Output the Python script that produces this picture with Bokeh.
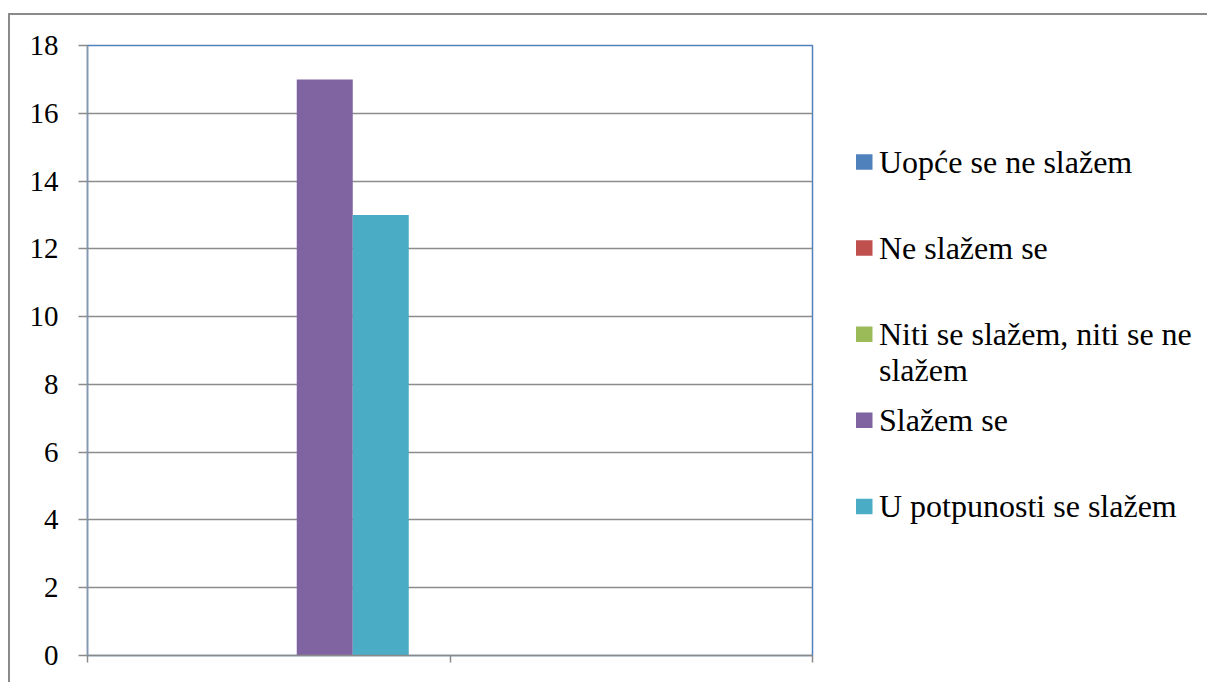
from bokeh.plotting import figure
from bokeh.models import ColumnDataSource, FixedTicker, Range1d
from bokeh.layouts import row
from bokeh.core.properties import value
from bokeh.embed import file_html
from bokeh.resources import INLINE

# ---- data ----
series = ["Uopće se ne slažem", "Ne slažem se", "Niti se slažem, niti se ne slažem",
          "Slažem se", "U potpunosti se slažem"]
legend_lines = [["Uopće se ne slažem"], ["Ne slažem se"],
                ["Niti se slažem, niti se ne", "slažem"],
                ["Slažem se"], ["U potpunosti se slažem"]]
colors = ["#4F81BD", "#C0504D", "#9BBB59", "#8064A2", "#4BACC6"]
cat_pos = [0.5, 1.5]          # two category slots on the axis
values = [
    [0, 0],    # Uopće se ne slažem
    [0, 0],    # Ne slažem se
    [0, 0],    # Niti se slažem, niti se ne slažem
    [17, 0],   # Slažem se
    [13, 0],   # U potpunosti se slažem
]
y_ticks = [0, 2, 4, 6, 8, 10, 12, 14, 16, 18]

FONT = "'Liberation Serif', 'Times New Roman', 'DejaVu Serif', serif"
GRAY = "#8a8a8a"

FR_TOP, FR_H, FR_BOT = 30, 610, 27

# ---- chart ----
p = figure(width=806, height=FR_TOP + FR_H + FR_BOT, output_backend="svg", toolbar_location=None,
           x_range=Range1d(0, 2), y_range=Range1d(0, 18),
           min_border_left=77, min_border_right=4, min_border_top=FR_TOP,
           min_border_bottom=FR_BOT,
           background_fill_color="white", border_fill_color="white")

bar_w = 0.1545
offsets = [-2, -1, 0, 1, 2]
for i, name in enumerate(series):
    xs = [c + offsets[i] * bar_w for c in cat_pos]
    src = ColumnDataSource(dict(x=xs, top=values[i]))
    p.vbar(x="x", top="top", bottom=0, width=bar_w, source=src,
           fill_color=colors[i], line_color=None)

p.yaxis.ticker = FixedTicker(ticks=y_ticks)
p.yaxis.major_label_text_font = FONT
p.yaxis.major_label_text_font_size = "29px"
p.yaxis.major_label_text_color = "black"
p.yaxis.major_tick_out = 9
p.yaxis.major_tick_in = 0
p.yaxis.minor_tick_out = 0
p.yaxis.minor_tick_in = 0
p.yaxis.major_label_standoff = 20
p.yaxis.axis_line_color = "#8797ad"
p.yaxis.axis_line_width = 1.5
p.yaxis.major_tick_line_color = GRAY
p.yaxis.major_tick_line_width = 1.5

p.xaxis.ticker = FixedTicker(ticks=[0, 1, 2])
p.xaxis.major_label_text_font_size = "1px"
p.xaxis.major_label_text_color = None
p.xaxis.major_tick_out = 7
p.xaxis.major_tick_in = 0
p.xaxis.minor_tick_out = 0
p.xaxis.minor_tick_in = 0
p.xaxis.axis_line_color = GRAY
p.xaxis.axis_line_width = 1.5
p.xaxis.major_tick_line_color = GRAY
p.xaxis.major_tick_line_width = 1.5

p.xgrid.grid_line_color = None
p.ygrid.ticker = FixedTicker(ticks=y_ticks)
p.ygrid.grid_line_color = "#8c8c8c"
p.ygrid.grid_line_width = 1.5

p.outline_line_color = "#4F81BD"
p.outline_line_width = 1.5

# ---- legend panel: data space equals canvas pixels (frame aligned with chart) ----
LW = 391
q = figure(width=LW, height=FR_TOP + FR_H + FR_BOT, output_backend="svg", toolbar_location=None,
           x_range=Range1d(0, LW), y_range=Range1d(FR_TOP + FR_H, FR_TOP),
           x_axis_location=None, y_axis_location=None,
           min_border_left=0, min_border_right=0,
           min_border_top=FR_TOP, min_border_bottom=FR_BOT,
           background_fill_color="white", border_fill_color="white")
q.grid.visible = False
q.outline_line_color = None

BASE0, PITCH, LINE = 146.5, 86.1, 36.7
SQ_X, SQ_W, SQ_H, TXT_X = 47.75, 16.5, 15.5, 62.5
TXT_DY = -0.5
sq_x, sq_y, sq_c = [], [], []
tx, ty, tt = [], [], []
for i, lines in enumerate(legend_lines):
    base = BASE0 + PITCH * i
    sq_x.append(SQ_X)
    sq_y.append(base)
    sq_c.append(colors[i])
    for j, line in enumerate(lines):
        tx.append(TXT_X)
        ty.append(base + TXT_DY + LINE * j)
        tt.append(line)

q.rect(x="x", y="y", width=SQ_W, height=SQ_H, fill_color="c", line_color=None,
       source=ColumnDataSource(dict(x=sq_x, y=sq_y, c=sq_c)))
q.text(x="x", y="y", text="t", source=ColumnDataSource(dict(x=tx, y=ty, t=tt)),
       text_font=value(FONT), text_font_size=value("32px"), text_color="black",
       text_align="left", text_baseline="middle")

layout = row(p, q, spacing=0,
             styles={"margin-left": "8px", "margin-top": "13px",
                     "border-left": "2px solid " + GRAY, "border-top": "2px solid " + GRAY})

open("out.html", "w").write(file_html(layout, INLINE))
